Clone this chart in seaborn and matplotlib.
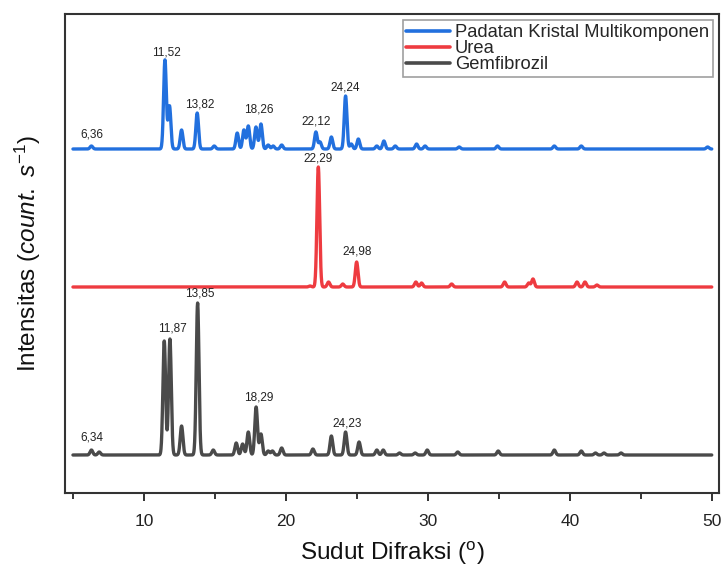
import numpy as np
import pandas as pd
import matplotlib
matplotlib.use("Agg")
import matplotlib.pyplot as plt
import seaborn as sns

# ---------------- data ----------------
series_names = ["Padatan Kristal Multikomponen", "Urea", "Gemfibrozil"]
series_colors = ["#2270DE", "#EE3B40", "#4A4A4A"]
baselines = [344, 206, 38]   # vertical offsets of each trace

# Padatan Kristal Multikomponen peaks (2theta, height)
pkm_pos = [6.3, 11.48, 11.8, 12.65, 13.75, 14.95, 16.57, 17.04, 17.35, 17.89, 18.24,
           18.75, 19.1, 19.7, 22.11, 22.4, 23.2, 24.2, 24.6, 25.1, 26.4, 26.9, 27.7,
           29.2, 29.8, 32.2, 34.9, 38.9, 40.8, 49.7]
pkm_h = [3, 89, 43, 19, 36, 3, 16, 19, 23, 22, 25,
         4, 3, 4, 17, 7, 12, 53, 5, 10, 3, 8, 3,
         5, 3, 2, 3, 3, 3, 2]

# Urea peaks
urea_pos = [21.7, 22.28, 23.0, 24.0, 24.98, 29.15, 29.55, 31.67, 35.4, 37.1, 37.4,
            40.5, 41.06, 41.9]
urea_h = [1, 120, 5, 3, 25, 5, 4, 3, 5, 4, 8, 5, 5, 2]

# Gemfibrozil peaks
gem_pos = [6.3, 6.85, 11.43, 11.83, 12.65, 13.78, 14.88, 16.5, 16.95, 17.35, 17.9,
           18.24, 18.75, 19.05, 19.7, 21.9, 23.2, 24.2, 25.15, 26.4, 26.85, 28.0,
           29.1, 29.95, 32.1, 34.95, 38.9, 40.8, 41.8, 42.4, 43.6]
gem_h = [5, 3, 114, 116, 29, 152, 5, 12, 11, 23, 48,
         21, 4, 4, 7, 6, 19, 23, 13, 5, 5, 2,
         2, 5, 3, 4, 5, 4, 2, 2, 2]

# Peak annotations: (text, x, y)
label_texts = ["6,36", "11,52", "13,82", "18,26", "22,12", "24,24",
               "22,29", "24,98",
               "6,34", "11,87", "13,85", "18,29", "24,23"]
label_x = [6.33, 11.6, 13.94, 18.1, 22.11, 24.2,
           22.25, 25.0,
           6.34, 12.0, 13.94, 18.1, 24.3]
label_y = [353, 435, 383, 378, 366, 400,
           329, 236,
           50, 159, 194, 90, 64]

# ---------------- build profiles ----------------
theta = np.arange(5.0, 50.0, 0.01)
sigma = 0.095

def profile(pos, h, base):
    y = np.full_like(theta, float(base))
    for p, a in zip(pos, h):
        y += a * np.exp(-0.5 * ((theta - p) / sigma) ** 2)
    return y

peaks = [(pkm_pos, pkm_h), (urea_pos, urea_h), (gem_pos, gem_h)]
frames = []
for name, (pos, h), base in zip(series_names, peaks, baselines):
    frames.append(pd.DataFrame({"2theta": theta,
                                "intensity": profile(pos, h, base),
                                "sample": name}))
df = pd.concat(frames, ignore_index=True)

# ---------------- plot ----------------
sns.set_theme(style="ticks")
plt.rcParams["font.family"] = ["Liberation Sans", "DejaVu Sans"]
plt.rcParams["mathtext.fontset"] = "custom"
plt.rcParams["mathtext.rm"] = "Liberation Sans"
plt.rcParams["mathtext.it"] = "Liberation Sans:italic"

fig = plt.figure(figsize=(7.26, 5.71), dpi=100)
ax = fig.add_axes([65 / 726, (571 - 493) / 571, (719 - 65) / 726, (493 - 14) / 571])

sns.lineplot(data=df, x="2theta", y="intensity", hue="sample",
             hue_order=series_names, palette=series_colors,
             linewidth=2.4, ax=ax, sort=False, estimator=None)

for t, x, y in zip(label_texts, label_x, label_y):
    ax.text(x, y, t, ha="center", va="bottom", fontsize=8.5, color="#222222")

ax.set_xlim(4.44, 50.5)
ax.set_ylim(0, 479)
ax.set_xticks([10, 20, 30, 40, 50])
ax.set_xticks([5, 15, 25, 35, 45], minor=True)
ax.set_yticks([])
ax.tick_params(axis="x", which="major", direction="out", length=6, width=1.3,
               labelsize=12.5, colors="#222222", pad=9)
ax.tick_params(axis="x", which="minor", direction="out", length=4, width=1.3)
for s in ax.spines.values():
    s.set_visible(True)
    s.set_linewidth(1.5)
    s.set_color("#333333")

ax.set_xlabel(r"Sudut Difraksi ($^{\mathrm{o}}$)", fontsize=17.5, labelpad=8, color="#111111")
ax.set_ylabel(r"Intensitas ($\mathit{count.\ s}^{\mathit{-1}}$)", fontsize=17.5, labelpad=16, color="#111111")

leg = ax.legend(loc="upper right", fontsize=13.2, frameon=True, fancybox=False,
                edgecolor="#888888", handlelength=2.4, handletextpad=0.25,
                labelspacing=-0.05, borderaxespad=0.35, borderpad=0.2)
leg.get_frame().set_linewidth(1.2)
for line in leg.get_lines():
    line.set_linewidth(2.6)

fig.savefig("out.png", dpi=100)
